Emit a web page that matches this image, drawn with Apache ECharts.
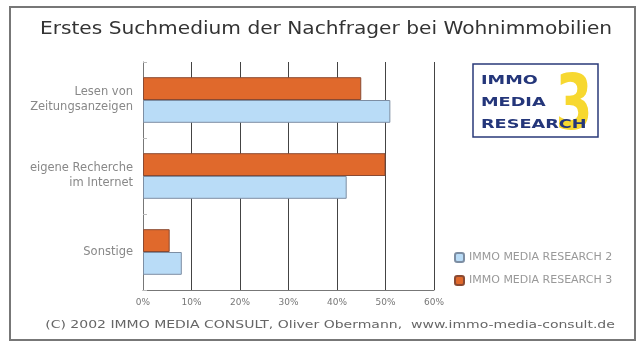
<!DOCTYPE html>
<html><head><meta charset="utf-8">
<script src="https://cdn.jsdelivr.net/npm/echarts@6/dist/echarts.min.js"></script>
<style>html,body{margin:0;padding:0;background:#fff}#c{width:644px;height:342px}</style>
</head><body><div id="c"></div>
<script>
const categories = ["Lesen von\nZeitungsanzeigen", "eigene Recherche\nim Internet", "Sonstige"];
const seriesNames = ["IMMO MEDIA RESEARCH 2", "IMMO MEDIA RESEARCH 3"];
const research3 = [45, 50, 5.5];
const research2 = [51, 42, 8];
const tickValues = [0, 10, 20, 30, 40, 50, 60];
const titleText = "Erstes Suchmedium der Nachfrager bei Wohnimmobilien";
const footerText = "(C) 2002 IMMO MEDIA CONSULT, Oliver Obermann,  www.immo-media-consult.de";

const chart = echarts.init(document.getElementById('c'), null, {renderer: 'canvas'});
const wide = "DejaVu Sans, sans-serif";
chart.setOption({
  animation: false,
  backgroundColor: '#fff',
  legend: {
    data: seriesNames, orient: 'vertical', left: 449, top: 247,
    itemWidth: 9, itemHeight: 9, itemGap: 12,
    textStyle: {fontFamily: wide, fontSize: 11, color: '#999'}
  },
  grid: {left: 143, right: 210, top: 62, bottom: 52, containLabel: false},
  xAxis: {
    type: 'value', min: tickValues[0], max: tickValues[tickValues.length - 1], interval: 10,
    axisLine: {show: true, lineStyle: {color: '#777', width: 1}},
    axisTick: {show: false},
    splitLine: {show: true, lineStyle: {color: '#444', width: 1}},
    axisLabel: {formatter: '{value}%', fontFamily: wide, fontSize: 9, color: '#777', margin: 8}
  },
  yAxis: {
    type: 'category', data: categories, inverse: true,
    axisLine: {show: true, lineStyle: {color: '#777', width: 1}},
    axisTick: {show: true, length: 4, inside: true, lineStyle: {color: '#bbb'}},
    axisLabel: {fontFamily: wide, fontSize: 11.5, color: '#888', margin: 10, lineHeight: 15}
  },
  series: [
    {name: seriesNames[1], type: 'bar', data: research3, barGap: '0%', barCategoryGap: '40%',
     itemStyle: {color: '#e0692c', borderColor: '#8a4a32', borderWidth: 1}},
    {name: seriesNames[0], type: 'bar', data: research2, barGap: '0%', barCategoryGap: '40%',
     itemStyle: {color: '#b9dcf7', borderColor: '#7d8ea3', borderWidth: 1}}
  ],
  graphic: [
    {type: 'rect', shape: {x: 10, y: 7, width: 625, height: 333},
     style: {fill: null, stroke: '#777', lineWidth: 2}, silent: true},
    {type: 'text', x: 326, y: 29, scaleX: 1.12,
     style: {text: titleText, fontFamily: wide, fontSize: 18, fill: '#333',
             textAlign: 'center', textVerticalAlign: 'middle'}},
    {type: 'text', x: 330, y: 325, scaleX: 1.4,
     style: {text: footerText, fontFamily: wide, fontSize: 10, fill: '#666',
             textAlign: 'center', textVerticalAlign: 'middle'}},
    {type: 'rect', shape: {x: 473, y: 64, width: 125, height: 73},
     style: {fill: '#fff', stroke: '#2a3a7a', lineWidth: 1.5}},
    {type: 'text', x: 574, y: 109, scaleX: 0.7,
     style: {text: '3', fontFamily: wide, fontSize: 76, fontWeight: 'bold', fill: '#f7d830',
             textAlign: 'center', textVerticalAlign: 'middle'}},
    {type: 'text', x: 481, y: 70, scaleX: 1.36,
     style: {text: 'IMMO\nMEDIA\nRESEARCH', fontFamily: wide, fontSize: 13,
             fontWeight: 'bold', fill: '#24367a', lineHeight: 22}}
  ]
});
</script></body></html>
